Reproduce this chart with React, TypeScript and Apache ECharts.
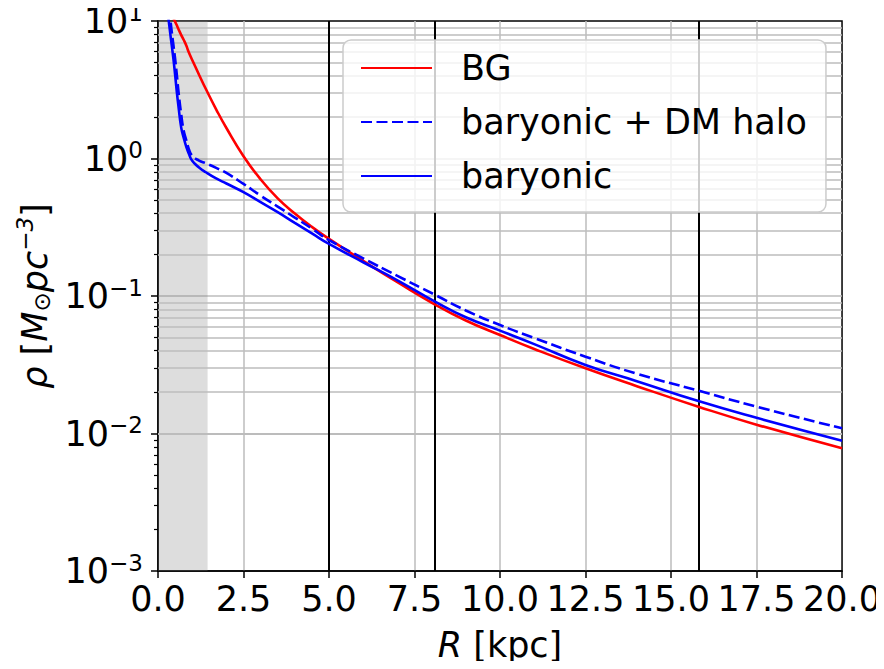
import { useEffect, useRef } from "react";
import * as echarts from "echarts";

// Galactocentric radius samples [kpc]
const R_KPC = [0.3, 0.35, 0.4, 0.45, 0.5, 0.55, 0.6, 0.68, 0.75, 0.83, 0.9, 1.0, 1.2, 1.4, 1.7, 2.0, 2.5, 3.0, 3.5, 4.0, 4.5, 5.0, 6.0, 7.0, 8.1, 9.0, 10, 11, 12.5, 14, 15.8, 17.5, 20];
// Densities [M_sun pc^-3]
const RHO_BG = [null, null, null, 10.52, 9.89, 9.3, 8.71, 7.9, 7.3, 6.6, 5.92, 5.21, 4.07, 3.2, 2.28, 1.667, 1.04, 0.705, 0.513, 0.398, 0.318, 0.26, 0.18, 0.126, 0.0867, 0.0664, 0.052, 0.0412, 0.0298, 0.0221, 0.01567, 0.0116, 0.00782];
const RHO_BAR_DM = [12.6, 10.7, 8.43, 6.7, 5.32, 4.07, 3.05, 2.08, 1.6, 1.35, 1.175, 1.047, 0.966, 0.923, 0.855, 0.785, 0.653, 0.537, 0.447, 0.372, 0.309, 0.255, 0.188, 0.14, 0.102, 0.0785, 0.0615, 0.0495, 0.0362, 0.0272, 0.0205, 0.01567, 0.0109];
const RHO_BAR = [10.7, 8.43, 6.7, 5.32, 4.07, 3.05, 2.38, 1.67, 1.42, 1.21, 1.087, 0.962, 0.861, 0.794, 0.716, 0.658, 0.569, 0.481, 0.407, 0.34, 0.285, 0.239, 0.176, 0.13, 0.091, 0.07, 0.056, 0.0447, 0.0315, 0.024, 0.0172, 0.013, 0.00887];

const SERIES_NAMES = ["BG", "baryonic + DM halo", "baryonic"];
const VERTICAL_LINES = [5.0, 8.1, 15.8];
const SHADED_RANGE = [0, 1.45];
const X_MIN = 0;
const X_MAX = 20;
const X_INTERVAL = 2.5;
const Y_MIN = 1e-3;
const Y_MAX = 1e1;
const Y_MINOR = [
  0.002, 0.003, 0.004, 0.005, 0.006, 0.007, 0.008, 0.009,
  0.02, 0.03, 0.04, 0.05, 0.06, 0.07, 0.08, 0.09,
  0.2, 0.3, 0.4, 0.5, 0.6, 0.7, 0.8, 0.9,
  2, 3, 4, 5, 6, 7, 8, 9,
];

const FONT = "DejaVu Sans";
const GRID_COLOR = "#bdbdbd";

function pairs(ys: (number | null)[]) {
  const out: number[][] = [];
  R_KPC.forEach((r, i) => {
    const v = ys[i];
    if (v != null) out.push([r, v]);
  });
  return out;
}

function expLabel(v: number) {
  const e = Math.round(Math.log10(v));
  const s = e < 0 ? "\u2212" + Math.abs(e) : String(e);
  return `{b|10}{e|${s}}`;
}

export default function App() {
  const ref = useRef<HTMLDivElement>(null);

  useEffect(() => {
    if (!ref.current) return;
    const chart = echarts.init(ref.current, undefined, { renderer: "svg" });

    const option: any = {
      animation: false,
      backgroundColor: "#ffffff",
      textStyle: { fontFamily: FONT },
      grid: {
        left: 158,
        right: 39,
        top: 21,
        bottom: 98,
        show: true,
        borderColor: "#000",
        borderWidth: 1.5,
        backgroundColor: "transparent",
        containLabel: false,
      },
      legend: {
        orient: "vertical",
        left: 343,
        top: 40,
        data: SERIES_NAMES,
        itemWidth: 71,
        itemHeight: 14,
        itemGap: 14,
        padding: [8, 19, 16, 17],
        backgroundColor: "rgba(255,255,255,0.8)",
        borderColor: "#cccccc",
        borderWidth: 1.5,
        borderRadius: 8,
        selectedMode: false,
        itemStyle: { opacity: 0 },
        textStyle: {
          fontFamily: FONT,
          fontSize: 35,
          color: "#000",
          lineHeight: 40,
          padding: [0, 0, 0, 24],
        },
      },
      xAxis: [
        {
          type: "value",
          min: X_MIN,
          max: X_MAX,
          interval: X_INTERVAL,
          name: "{i|R} [kpc]",
          nameLocation: "middle",
          nameGap: 56,
          nameTextStyle: {
            fontFamily: FONT,
            fontSize: 35,
            color: "#000",
            rich: { i: { fontFamily: FONT, fontSize: 35, fontStyle: "italic", color: "#000" } },
          },
          axisLine: { show: true, lineStyle: { color: "#000", width: 1.5 } },
          axisTick: { show: true, length: 7, lineStyle: { color: "#000", width: 1.5 } },
          axisLabel: {
            margin: 10,
            fontFamily: FONT,
            fontSize: 35,
            color: "#000",
            formatter: (v: number) => v.toFixed(1),
          },
          splitLine: {
            show: true,
            showMinLine: false,
            showMaxLine: false,
            lineStyle: { color: GRID_COLOR, width: 1.5 },
          },
        },
      ],
      yAxis: [
        {
          type: "log",
          logBase: 10,
          min: Y_MIN,
          max: Y_MAX,
          name: "{i|\u03c1} [{i|M}{sub|\u2299}{i|pc}{sup|\u22123}]",
          nameLocation: "middle",
          nameRotate: 90,
          nameGap: 102,
          nameTextStyle: {
            fontFamily: FONT,
            fontSize: 35,
            color: "#000",
            rich: {
              i: { fontFamily: FONT, fontSize: 35, fontStyle: "italic", color: "#000" },
              sub: { fontFamily: FONT, fontSize: 23, color: "#000", padding: [14, 0, 0, 0] },
              sup: { fontFamily: FONT, fontSize: 23, fontStyle: "italic", color: "#000", padding: [0, 0, 20, 0] },
            },
          },
          axisLine: { show: true, lineStyle: { color: "#000", width: 1.5 } },
          axisTick: { show: true, length: 7, lineStyle: { color: "#000", width: 1.5 } },
          axisLabel: {
            margin: 15,
            formatter: expLabel,
            rich: {
              b: { fontFamily: FONT, fontSize: 35, color: "#000" },
              e: { fontFamily: FONT, fontSize: 23, color: "#000", padding: [0, 0, 17, 0] },
            },
          },
          splitLine: {
            show: true,
            showMinLine: false,
            showMaxLine: false,
            lineStyle: { color: GRID_COLOR, width: 1.5 },
          },
        },
        {
          type: "log",
          logBase: 10,
          min: Y_MIN,
          max: Y_MAX,
          position: "left",
          axisLine: { show: false },
          axisLabel: { show: false },
          splitLine: { show: false },
          axisTick: {
            show: true,
            length: 4,
            customValues: Y_MINOR,
            lineStyle: { color: "#000", width: 1.2 },
          },
        },
      ],
      series: [
        {
          type: "line",
          name: "_helper",
          data: [],
          xAxisIndex: 0,
          yAxisIndex: 0,
          silent: true,
          z: 1,
          markArea: {
            silent: true,
            z: 1,
            itemStyle: { color: "rgba(128,128,128,0.27)" },
            label: { show: false },
            data: [[{ xAxis: SHADED_RANGE[0] }, { xAxis: SHADED_RANGE[1] }]],
          },
          markLine: {
            silent: true,
            z: 1,
            symbol: ["none", "none"],
            label: { show: false },
            emphasis: { disabled: true },
            lineStyle: { color: GRID_COLOR, width: 1.5, type: "solid" },
            data: Y_MINOR.map((v) => ({ yAxis: v })),
          },
        },
        {
          type: "line",
          name: "_vlines",
          data: [],
          silent: true,
          z: 1,
          markLine: {
            silent: true,
            z: 1.5,
            symbol: ["none", "none"],
            label: { show: false },
            emphasis: { disabled: true },
            lineStyle: { color: "#000", width: 2, type: "solid" },
            data: VERTICAL_LINES.map((v) => ({ xAxis: v })),
          },
        },
        {
          type: "line",
          name: SERIES_NAMES[0],
          data: pairs(RHO_BG),
          symbol: "none",
          showSymbol: false,
          smooth: 0.5,
          z: 3,
          lineStyle: { color: "#ff0000", width: 2.6 },
          itemStyle: { color: "#ff0000" },
        },
        {
          type: "line",
          name: SERIES_NAMES[1],
          data: pairs(RHO_BAR_DM),
          symbol: "none",
          showSymbol: false,
          smooth: 0.5,
          z: 4,
          lineStyle: { color: "#0000ff", width: 2.6, type: [11, 4.5] },
          itemStyle: { color: "#0000ff" },
        },
        {
          type: "line",
          name: SERIES_NAMES[2],
          data: pairs(RHO_BAR),
          symbol: "none",
          showSymbol: false,
          smooth: 0.5,
          z: 5,
          lineStyle: { color: "#0000ff", width: 2.6 },
          itemStyle: { color: "#0000ff" },
        },
      ],
    };

    chart.setOption(option);
    return () => chart.dispose();
  }, []);

  return <div ref={ref} style={{ width: 884, height: 669, margin: -8 }} />;
}
